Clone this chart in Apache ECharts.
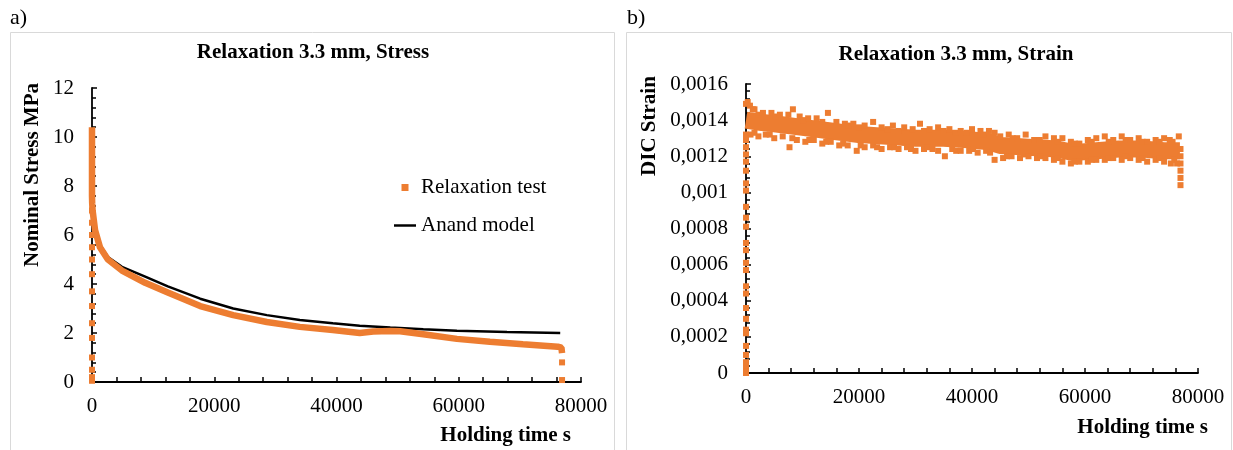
<!DOCTYPE html>
<html><head><meta charset="utf-8">
<script src="https://cdn.jsdelivr.net/npm/echarts@6/dist/echarts.min.js"></script>
<style>html,body{margin:0;padding:0;background:#fff}#c{width:1233px;height:450px}</style>
</head><body><div id="c"></div>
<script>
// ---------- data ----------
const xTickLabels = ['0', '20000', '40000', '60000', '80000'];
const yTickLabelsA = ['0', '2', '4', '6', '8', '10', '12'];
const yTickLabelsB = ['0', '0,0002', '0,0004', '0,0006', '0,0008', '0,001', '0,0012', '0,0014', '0,0016'];

// Panel a: stress relaxation test (orange band)
const testT = [0, 0, 0, 0, 0, 30, 100, 500, 1300, 2600, 4900, 8700, 12400, 17700, 23100, 28600, 34000, 39400, 43800, 46000, 48800, 50400, 54200, 59700, 65100, 70500, 76200, 76800, 76900];
const testV = [10.4, 9.6, 8.8, 8.0, 7.6, 7.3, 7.0, 6.2, 5.5, 5.0, 4.55, 4.05, 3.65, 3.1, 2.73, 2.45, 2.25, 2.12, 2.0, 2.06, 2.08, 2.07, 1.95, 1.76, 1.64, 1.54, 1.44, 1.40, 1.18];
// isolated test points (loading ramp at t=0 and unloading at end)
const testDotT = [0, 0, 0, 0, 0, 0, 0, 0, 0, 0, 0, 0, 0, 0, 76900, 76900];
const testDotV = [7.0, 6.5, 6.0, 5.5, 5.0, 4.4, 3.7, 3.1, 2.4, 1.8, 1.0, 0.5, 0.2, 0.05, 0.8, 0.08];
// Panel a: Anand model
const anandT = [0, 100, 500, 1300, 2600, 4900, 8700, 12400, 17700, 23100, 28600, 34000, 39400, 43800, 48800, 54200, 59700, 67900, 76600];
const anandV = [7.6, 7.1, 6.3, 5.6, 5.1, 4.7, 4.3, 3.9, 3.4, 3.0, 2.73, 2.53, 2.4, 2.3, 2.22, 2.15, 2.09, 2.04, 2.0];

// Panel b: DIC strain, core of the noisy band
const strainCoreT = [0, 2000, 5000, 10000, 15000, 20000, 25000, 30000, 35000, 40000, 43000, 45000, 50000, 55000, 58000, 62000, 66000, 70000, 74000, 76800];
const strainCoreV = [0.00140, 0.00139, 0.00138, 0.00136, 0.00134, 0.00132, 0.00131, 0.00130, 0.00130, 0.00129, 0.00128, 0.00126, 0.00125, 0.00124, 0.00122, 0.00123, 0.00124, 0.00124, 0.00123, 0.00123];
// upper scattered points of the band
const strainUpper = [[0,0.00149],[300,0.00150],[700,0.00148],[1200,0.00146],[1500,0.00146],[2200,0.00143],[3000,0.00144],[4500,0.00144],[5200,0.00142],[6000,0.00143],[7500,0.00143],[8300,0.00146],[9500,0.00142],[10200,0.00140],[11000,0.00141],[12500,0.00141],[13500,0.00139],[14500,0.00144],[16000,0.00139],[17500,0.00138],[18200,0.00137],[19000,0.00138],[20000,0.00136],[21000,0.00137],[22500,0.00139],[24000,0.00136],[25000,0.00135],[26000,0.00137],[27000,0.00134],[28000,0.00136],[29500,0.00135],[30800,0.00138],[31500,0.00134],[32500,0.00135],[34000,0.00136],[35000,0.00134],[36000,0.00135],[37000,0.00133],[38000,0.00134],[39000,0.00133],[40000,0.00135],[41500,0.00134],[42000,0.00132],[43000,0.00134],[44000,0.00133],[45000,0.00131],[46500,0.00132],[47200,0.00130],[48000,0.00130],[49500,0.00132],[51000,0.00129],[52000,0.00129],[53000,0.00131],[54500,0.00130],[55200,0.00128],[56000,0.00130],[57500,0.00128],[58200,0.00127],[59000,0.00127],[60500,0.00129],[61200,0.00128],[62000,0.00130],[63500,0.00131],[64200,0.00128],[65000,0.00129],[66500,0.00131],[67200,0.00129],[68000,0.00129],[69500,0.00130],[70200,0.00128],[71000,0.00128],[72500,0.00129],[73200,0.00128],[74000,0.00130],[75000,0.00129],[75500,0.00128],[76600,0.00131]];
// lower scattered points of the band
const strainLower = [[0,0.00132],[800,0.00132],[1500,0.00133],[2200,0.00131],[3500,0.00132],[4200,0.00132],[5000,0.00130],[6500,0.00131],[7700,0.00125],[8200,0.00130],[9000,0.00129],[10500,0.00128],[11200,0.00129],[12000,0.00129],[13500,0.00127],[14200,0.00128],[15000,0.00128],[16500,0.00126],[17200,0.00127],[18000,0.00126],[19600,0.00123],[20300,0.00126],[21000,0.00125],[22500,0.00126],[23200,0.00125],[24000,0.00124],[25500,0.00125],[26200,0.00125],[27000,0.00124],[28500,0.00125],[29200,0.00124],[30000,0.00123],[31500,0.00124],[32200,0.00125],[33000,0.00124],[34000,0.00123],[35200,0.00120],[36500,0.00124],[37200,0.00123],[38000,0.00123],[39500,0.00123],[40200,0.00124],[41000,0.00122],[42500,0.00123],[43200,0.00122],[44000,0.00118],[45500,0.00119],[46200,0.00120],[47000,0.00120],[48500,0.00119],[49200,0.00121],[50000,0.00120],[51500,0.00119],[52200,0.00120],[53000,0.00119],[54500,0.00118],[55200,0.00119],[56000,0.00117],[57500,0.00116],[58200,0.00117],[59000,0.00117],[60500,0.00117],[61200,0.00118],[62000,0.00118],[63500,0.00118],[64200,0.00119],[65000,0.00119],[66500,0.00118],[67200,0.00120],[68000,0.00119],[69500,0.00118],[70200,0.00119],[71000,0.00117],[72500,0.00118],[73200,0.00119],[74000,0.00117],[75200,0.00116],[75800,0.00118],[76300,0.00116]];
// end drop of strain band
const strainEndT = [76900, 76900, 76900, 76900, 76900, 76900];
const strainEndV = [0.00124, 0.00120, 0.00116, 0.00112, 0.00108, 0.00104];
// loading ramp points at t=0
const strainRampV = [0, 0.00002, 0.00004, 0.00006, 0.00010, 0.00015, 0.00022, 0.00024, 0.00030, 0.00036, 0.00044, 0.00048, 0.00057, 0.00061, 0.00068, 0.00072, 0.00081, 0.00086, 0.00092, 0.00101, 0.00105, 0.00112, 0.00117, 0.00121, 0.00125, 0.00129];

// ---------- chart ----------
const zip = (a, b) => a.map((v, i) => [v, b[i]]);
const FONT = 'Liberation Serif';
const ORANGE = '#ED7D31';

function mkX(i) {
  return {
    gridIndex: i, type: 'value', min: 0, max: 80000, interval: 20000,
    axisLine: { show: true, onZero: false, lineStyle: { color: '#000', width: 1.8 } },
    axisTick: { show: true, inside: true, length: 5, lineStyle: { color: '#000', width: 1.5 } },
    minorTick: { show: true, splitNumber: 5, length: 5, lineStyle: { color: '#000', width: 1.5 } },
    splitLine: { show: false }, minorSplitLine: { show: false },
    axisLabel: { color: '#000', fontFamily: FONT, fontSize: 21, margin: 14,
      formatter: v => xTickLabels[Math.round(v / 20000)] }
  };
}
function mkY(i, max, interval, labels) {
  return {
    gridIndex: i, type: 'value', min: 0, max: max, interval: interval,
    axisLine: { show: true, onZero: false, lineStyle: { color: '#000', width: 1.8 } },
    axisTick: { show: true, inside: true, length: 5, lineStyle: { color: '#000', width: 1.5 } },
    minorTick: { show: true, splitNumber: 5, length: 4, lineStyle: { color: '#000', width: 1.5 } },
    splitLine: { show: false }, minorSplitLine: { show: false },
    axisLabel: { color: '#000', fontFamily: FONT, fontSize: 21, margin: 18,
      formatter: v => labels[Math.round(v / interval)] }
  };
}
function txt(x, y, text, opts) {
  opts = opts || {};
  return {
    type: 'text', x: x, y: y, rotation: opts.rot || 0, silent: true,
    style: {
      text: text, fill: '#000',
      font: (opts.bold ? 'bold ' : '') + (opts.size || 21) + 'px "' + FONT + '"',
      align: opts.align || 'center', verticalAlign: 'middle',
      textAlign: opts.align || 'center', textVerticalAlign: 'middle'
    }
  };
}

const chart = echarts.init(document.getElementById('c'), null, { renderer: 'canvas' });
chart.setOption({
  animation: false,
  backgroundColor: '#fff',
  grid: [
    { left: 92, top: 88, width: 489, height: 294 },
    { left: 746, top: 84, width: 452, height: 289 }
  ],
  xAxis: [mkX(0), mkX(1)],
  yAxis: [mkY(0, 12, 2, yTickLabelsA), mkY(1, 0.0016, 0.0002, yTickLabelsB)],
  legend: {
    left: 389, top: 172, orient: 'vertical', itemWidth: 22, itemHeight: 7, itemGap: 17,
    selectedMode: false,
    textStyle: { fontFamily: FONT, fontSize: 21, color: '#000' },
    data: [
      { name: 'Relaxation test', icon: 'path://M0,0h10v10h-10z', itemStyle: { color: ORANGE, borderWidth: 0, opacity: 1 } },
      { name: 'Anand model', icon: 'path://M0,0h40v4.5h-40z', itemStyle: { color: '#000', borderWidth: 0, opacity: 1 } }
    ]
  },
  series: [
    { name: 'Anand model', type: 'line', xAxisIndex: 0, yAxisIndex: 0, data: zip(anandT, anandV),
      symbol: 'none', clip: false, lineStyle: { color: '#000', width: 2.5 }, itemStyle: { color: '#000' }, z: 2 },
    { name: 'Relaxation test', type: 'line', xAxisIndex: 0, yAxisIndex: 0, data: zip(testT, testV),
      symbol: 'none', clip: false, lineStyle: { color: ORANGE, width: 6.5 }, itemStyle: { color: ORANGE }, z: 3 },
    { name: 'Relaxation test', type: 'scatter', xAxisIndex: 0, yAxisIndex: 0, data: zip(testDotT, testDotV),
      symbol: 'rect', symbolSize: 6, clip: false, itemStyle: { color: ORANGE, opacity: 1 }, z: 3 },
    { name: 'DIC strain core', type: 'line', xAxisIndex: 1, yAxisIndex: 1, data: zip(strainCoreT, strainCoreV),
      symbol: 'none', clip: false, lineStyle: { color: ORANGE, width: 17 }, z: 3 },
    { name: 'DIC strain', type: 'scatter', xAxisIndex: 1, yAxisIndex: 1,
      data: strainUpper.concat(strainLower, zip(strainEndT, strainEndV), strainRampV.map(v => [0, v])),
      symbol: 'rect', symbolSize: 6, clip: false, itemStyle: { color: ORANGE, opacity: 1 }, z: 3 }
  ],
  graphic: [
    { type: 'rect', silent: true, z: -10, shape: { x: 10.5, y: 32.5, width: 604, height: 440 },
      style: { fill: 'none', stroke: '#d9d9d9', lineWidth: 1 } },
    { type: 'rect', silent: true, z: -10, shape: { x: 626.5, y: 32.5, width: 605, height: 440 },
      style: { fill: 'none', stroke: '#d9d9d9', lineWidth: 1 } },
    txt(10, 18, 'a)', { align: 'left', size: 22 }),
    txt(627, 18, 'b)', { align: 'left', size: 22 }),
    txt(313, 53, 'Relaxation 3.3 mm, Stress', { bold: true }),
    txt(956, 55, 'Relaxation 3.3 mm, Strain', { bold: true }),
    txt(33, 175, 'Nominal Stress MPa', { bold: true, rot: Math.PI / 2 }),
    txt(650, 126, 'DIC Strain', { bold: true, rot: Math.PI / 2 }),
    txt(571, 436, 'Holding time s', { bold: true, align: 'right' }),
    txt(1208, 428, 'Holding time s', { bold: true, align: 'right' })
  ]
});
</script>
</body></html>
